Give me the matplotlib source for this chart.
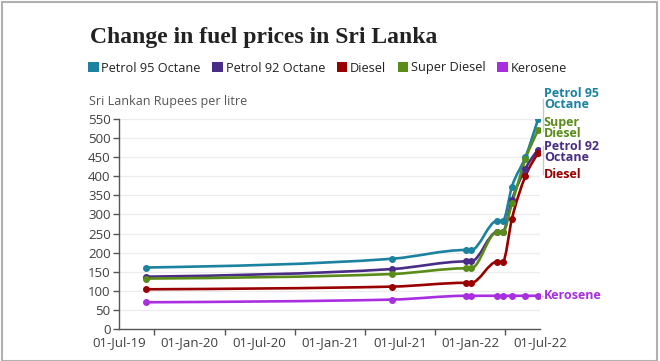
"""Change in fuel prices in Sri Lanka - line chart, BBC style."""
import matplotlib
matplotlib.use("Agg")
import matplotlib.pyplot as plt
import matplotlib.dates as mdates
from matplotlib.path import Path
from matplotlib.patches import PathPatch, Patch, Rectangle
import numpy as np
import pandas as pd

# --- data (Rs per litre) ---
dates = ["2019-09-09", "2021-06-11", "2021-12-21", "2022-01-03", "2022-03-11",
         "2022-03-26", "2022-04-19", "2022-05-24", "2022-06-26"]
petrol95 = [161, 184, 207, 207, 283, 283, 373, 450, 550]
petrol92 = [137, 157, 177, 177, 254, 254, 338, 420, 470]
diesel = [104, 111, 121, 121, 176, 176, 289, 400, 460]
super_diesel = [132, 144, 159, 159, 254, 254, 329, 445, 520]
kerosene = [70, 77, 87, 87, 87, 87, 87, 87, 87]

series_names = ["Petrol 95 Octane", "Petrol 92 Octane", "Diesel", "Super Diesel", "Kerosene"]
series_vals = [petrol95, petrol92, diesel, super_diesel, kerosene]
colors = ["#1b82a0", "#4a2d86", "#990000", "#5a8c19", "#a92ee0"]

y_ticks = list(range(0, 551, 50))
x_labels = ["2019-07-01", "2020-01-01", "2020-07-01", "2021-01-01",
            "2021-07-01", "2022-01-01", "2022-07-01"]
x_minor = ["2019-07-01", "2019-10-01", "2020-04-01", "2020-10-01", "2021-04-01",
           "2021-10-01", "2022-04-01", "2022-07-01"]

SANS = ["Open Sans", "DejaVu Sans"]
GREY = "#404040"


def monotone_path(x, y):
    """Cubic bezier path like d3.curveMonotoneX."""
    x = np.asarray(x, float)
    y = np.asarray(y, float)
    n = len(x)
    h = np.diff(x)
    s = np.diff(y) / h
    t = np.zeros(n)
    for i in range(1, n - 1):
        p = (s[i - 1] * h[i] + s[i] * h[i - 1]) / (h[i - 1] + h[i])
        t[i] = (np.sign(s[i - 1]) + np.sign(s[i])) * min(abs(s[i - 1]), abs(s[i]), 0.5 * abs(p))
    t[0] = (3 * s[0] - t[1]) / 2
    t[-1] = (3 * s[-1] - t[-2]) / 2
    verts = [(x[0], y[0])]
    codes = [Path.MOVETO]
    for i in range(n - 1):
        dx = h[i] / 3
        verts += [(x[i] + dx, y[i] + dx * t[i]),
                  (x[i + 1] - dx, y[i + 1] - dx * t[i + 1]),
                  (x[i + 1], y[i + 1])]
        codes += [Path.CURVE4] * 3
    return Path(verts, codes)


xd = mdates.date2num(pd.to_datetime(dates))

fig = plt.figure(figsize=(6.6, 3.61), dpi=100)
ax = fig.add_axes([119 / 660, 32 / 361, 421 / 660, 210 / 361])

for vals, c in zip(series_vals, colors):
    ax.add_patch(PathPatch(monotone_path(xd, vals), fill=False, edgecolor=c,
                           lw=1.9, capstyle="round", joinstyle="round", zorder=3))
    ax.plot(xd, vals, "o", color=c, ms=4, zorder=4)

ax.set_xlim(mdates.date2num(pd.Timestamp(x_labels[0])), mdates.date2num(pd.Timestamp(x_labels[-1])))
ax.set_ylim(0, 550)

ax.set_yticks(y_ticks)
ax.yaxis.grid(True, color="#ececec", lw=0.9)
ax.set_axisbelow(True)
ax.set_xticks(mdates.date2num(pd.to_datetime(x_labels)))
ax.set_xticklabels([pd.Timestamp(d).strftime("%d-%b-%y") for d in x_labels])
ax.set_xticks(mdates.date2num(pd.to_datetime(x_minor)), minor=True)
ax.tick_params(axis="x", which="major", length=0, pad=5, labelsize=9.5, labelcolor=GREY)
ax.tick_params(axis="x", which="minor", length=4, width=1, color="#555555")
ax.tick_params(axis="y", length=4, width=1, color="#555555", pad=2, labelsize=9.5, labelcolor=GREY)
for lab in ax.get_xticklabels() + ax.get_yticklabels():
    lab.set_family(SANS)
for side in ("top", "right"):
    ax.spines[side].set_visible(False)
for side in ("left", "bottom"):
    ax.spines[side].set_color("#555555")
    ax.spines[side].set_linewidth(1)

# direct labels on the right
end = xd[-1]
lab_x = mdates.date2num(pd.Timestamp("2022-07-11"))
right_labels = [("Petrol 95\nOctane", 603, colors[0]),
                ("Super\nDiesel", 526, colors[3]),
                ("Petrol 92\nOctane", 463, colors[1]),
                ("Diesel", 405, colors[2]),
                ("Kerosene", 87, colors[4])]
for txt, yv, c in right_labels:
    ax.text(lab_x, yv, txt, color=c, fontsize=9, fontweight="bold", family=SANS,
            va="center", ha="left", linespacing=0.85, clip_on=False)
brk_x = mdates.date2num(pd.Timestamp("2022-07-08"))
ax.plot([brk_x, brk_x], [603, 518], color="#c8c8c8", lw=1, clip_on=False)
ax.plot([brk_x, brk_x], [478, 405], color="#c8c8c8", lw=1, clip_on=False)
ax.plot([end, lab_x], [87, 87], color=colors[4], lw=1, ls=":", alpha=0.5, clip_on=False)

# title, legend, subtitle
fig.text(90 / 660, 1 - 38 / 361, "Change in fuel prices in Sri Lanka", fontsize=17,
         fontweight="bold", family=["Liberation Serif", "DejaVu Serif"], color="#222222", va="center")
handles = [Patch(facecolor=c, edgecolor="none") for c in colors]
leg = fig.legend(handles, series_names, loc="center left", bbox_to_anchor=(88 / 660, 1 - 68 / 361),
                 ncol=5, frameon=False, borderaxespad=0, borderpad=0, handlelength=0.85,
                 handleheight=0.85, handletextpad=0.2, columnspacing=0.9,
                 prop={"family": SANS, "size": 9.2})
for t in leg.get_texts():
    t.set_color("#222222")
fig.text(89 / 660, 1 - 102 / 361, "Sri Lankan Rupees per litre", fontsize=9, family=SANS,
         color="#555555", va="center")

# outer frame
fig.patches.append(Rectangle((0.003, 0.0), 0.992, 0.994, transform=fig.transFigure,
                             fill=False, edgecolor="#b0b0b0", lw=1.5))

fig.savefig("out.png", dpi=100)
